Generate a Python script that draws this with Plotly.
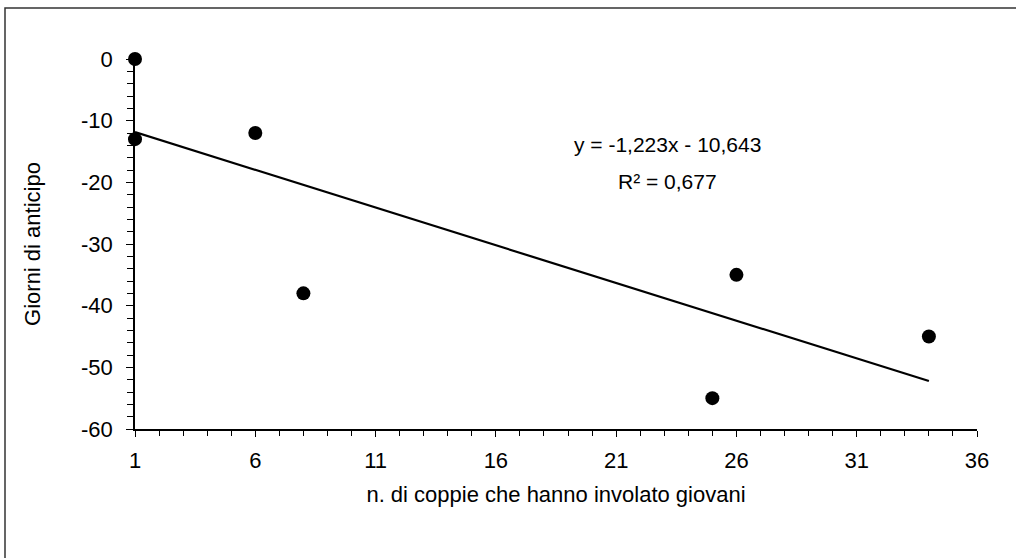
import numpy as np
import plotly.graph_objects as go

x_vals = [1, 1, 6, 8, 25, 26, 34]
y_vals = [0, -13, -12, -38, -55, -35, -45]
x_tick_vals = [1, 6, 11, 16, 21, 26, 31, 36]
y_tick_vals = [0, -10, -20, -30, -40, -50, -60]
eq_text = "y = -1,223x - 10,643"
r2_text = "R² = 0,677"

slope, intercept = np.polyfit(x_vals, y_vals, 1)
xt = [min(x_vals), max(x_vals)]
yt = [slope * v + intercept for v in xt]

FONT = "Liberation Sans, Arial, Helvetica, sans-serif"

fig = go.Figure()
fig.add_trace(go.Scatter(x=xt, y=yt, mode="lines",
                         line=dict(color="black", width=2.2),
                         showlegend=False, hoverinfo="skip", cliponaxis=False))
fig.add_trace(go.Scatter(x=x_vals, y=y_vals, mode="markers",
                         marker=dict(color="black", size=14),
                         showlegend=False, cliponaxis=False))

W, H = 1016, 558
L, R, T, B = 135, 39, 59, 129
pw, ph = W - L - R, H - T - B

def px(p):
    return (p - L) / pw

def py(p):
    return (H - B - p) / ph

fig.add_shape(type="rect", xref="paper", yref="paper",
              x0=px(5), x1=px(1030), y0=py(570), y1=py(8),
              line=dict(color="#333333", width=1.5), fillcolor="rgba(0,0,0,0)",
              layer="below")

fig.add_annotation(x=px(667), y=py(131), xref="paper", yref="paper",
                   text=eq_text, showarrow=False,
                   font=dict(size=21, color="black", family=FONT))
fig.add_annotation(x=px(667), y=py(168), xref="paper", yref="paper",
                   text=r2_text, showarrow=False,
                   font=dict(size=21, color="black", family=FONT))

fig.update_layout(
    width=W, height=H,
    margin=dict(l=L, r=R, t=T, b=B),
    paper_bgcolor="white", plot_bgcolor="white",
    font=dict(family=FONT, size=21, color="black"),
    showlegend=False,
)
fig.update_xaxes(
    range=[1, 36], tickvals=x_tick_vals, ticktext=[str(v) for v in x_tick_vals],
    showgrid=False, zeroline=False, showline=True, linecolor="black", linewidth=1.5,
    ticks="outside", ticklen=6, tickwidth=1.2, tickcolor="black",
    minor=dict(dtick=1, tick0=1, ticks="outside", ticklen=5, tickcolor="black", tickwidth=1, showgrid=False),
    tickfont=dict(size=22), ticklabelstandoff=5,
    title=dict(text="n. di coppie che hanno involato giovani", font=dict(size=22), standoff=14),
)
fig.update_yaxes(
    range=[-60, 0], tickvals=y_tick_vals, ticktext=[str(v) for v in y_tick_vals],
    showgrid=False, zeroline=False, showline=True, linecolor="black", linewidth=1.5,
    ticks="outside", ticklen=7, tickwidth=1.2, tickcolor="black",
    minor=dict(dtick=2, tick0=0, ticks="outside", ticklen=6, tickcolor="black", tickwidth=1, showgrid=False),
    tickfont=dict(size=22), ticklabelstandoff=9,
    title=dict(text="Giorni di anticipo", font=dict(size=22), standoff=34),
)

fig.write_html("out.html", config={"displayModeBar": False},
               post_script="document.body.style.margin='0px';")
